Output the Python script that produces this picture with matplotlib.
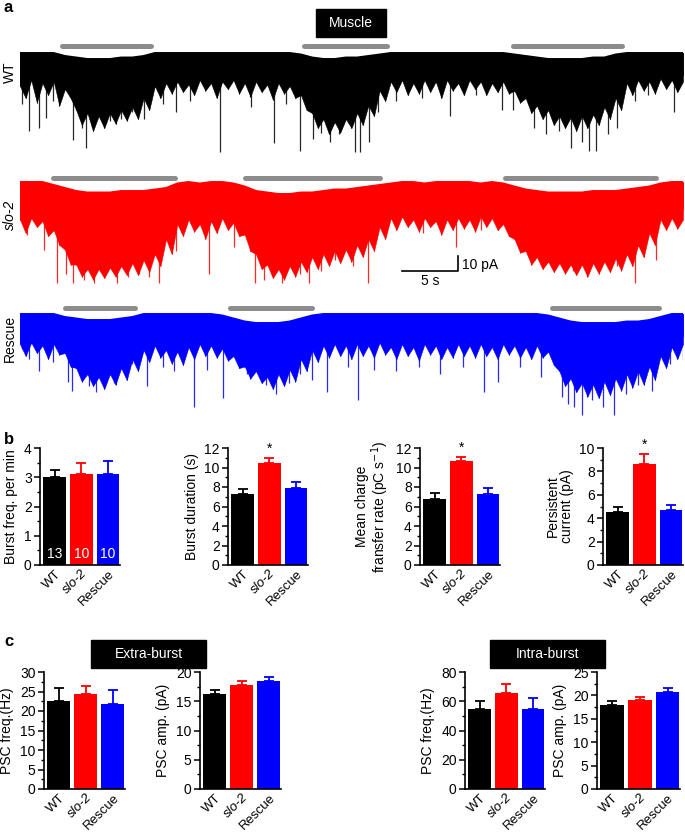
"""Burst recordings (WT / slo-2 / Rescue) with summary bar charts."""
import numpy as np
import matplotlib.pyplot as plt
from matplotlib.patches import Rectangle
from matplotlib.ticker import AutoMinorLocator, MultipleLocator

plt.rcParams["font.family"] = ["Liberation Sans Narrow", "Liberation Sans", "DejaVu Sans"]

W, H = 685, 833

# ---- traces (pA relative to baseline, time in s) ----
t_grid = np.arange(60)          # 1 s grid for top edge / solid core
t_fine = np.arange(119) * 0.5   # 0.5 s grid for the spiky fringe

wt_top = [0, 0, 0, 0, -2, -3, -4, -4, -4, -3,
          -3, -2, 0, 0, 0, 0, 0, 0, 0, 0,
          0, 0, 0, 0, 0, -1, -3, -4, -4, -3,
          -3, -2, -1, 0, 0, 0, 0, 0, 0, 0,
          0, 0, 0, 0, -1, -2, -3, -4, -4, -4,
          -4, -3, -3, -1, 0, 0, 0, 0, 0, 0]
wt_core = [-15, -16, -15, -16, -22, -34, -38, -37, -35, -33,
           -33, -28, -20, -17, -16, -18, -15, -16, -17, -15,
           -16, -17, -16, -18, -17, -22, -32, -40, -40, -38,
           -35, -30, -20, -15, -14, -16, -15, -14, -16, -15,
           -14, -15, -16, -15, -20, -26, -30, -34, -36, -35,
           -36, -35, -30, -24, -15, -14, -15, -13, -14, -15]
wt_fringe = [-22, -30, -18, -33, -20, -28, -19, -35, -24, -30,
             -38, -48, -40, -52, -42, -50, -40, -47, -38, -45,
             -36, -44, -30, -38, -22, -30, -20, -27, -19, -26,
             -21, -28, -18, -25, -20, -30, -19, -24, -18, -27,
             -20, -29, -19, -26, -21, -31, -20, -27, -22, -30,
             -28, -38, -40, -50, -44, -54, -46, -53, -44, -50,
             -40, -48, -35, -42, -25, -32, -19, -26, -18, -28,
             -20, -27, -18, -26, -19, -30, -18, -25, -20, -28,
             -18, -24, -19, -28, -20, -26, -19, -27, -25, -33,
             -30, -40, -35, -44, -38, -48, -42, -50, -43, -52,
             -42, -50, -41, -48, -36, -44, -30, -38, -20, -28,
             -18, -25, -19, -27, -17, -24, -18, -26, -19]
wt_spk_t = [0.2, 0.8, 1.7, 2.3, 2.9, 4.7, 5.5, 5.9, 6.4, 7.2, 8.0, 9.0, 10.0, 11.0,
            11.7, 12.7, 13.9, 15.1, 17.8, 20.6, 22.6, 23.7, 24.9, 26.1, 26.8, 27.6,
            28.4, 29.8, 30.3, 31.1, 31.9, 33.5, 35.8, 38.3, 40.6, 42.9, 43.9, 45.7,
            46.8, 48.0, 49.0, 50.0, 50.6, 51.3, 52.3, 53.1, 54.7, 55.9, 58.2]
wt_spk_a = [-34, -52, -50, -43, -32, -58, -50, -63, -49, -43, -45, -44, -39, -44,
            -32, -34, -39, -32, -66, -36, -60, -34, -65, -57, -53, -59,
            -54, -66, -66, -59, -39, -32, -30, -42, -28, -38, -38, -50,
            -54, -52, -63, -59, -65, -65, -54, -50, -32, -28, -39]
wt_bars = [(3.7, 11.7), (25.3, 32.7), (43.9, 53.6)]

slo_top = [0, 0, 0, -2, -4, -6, -7, -7, -7, -6,
           -6, -6, -5, -4, -1, 0, -1, 0, 0, -1,
           -3, -6, -7, -8, -8, -7, -7, -6, -5, -5,
           -4, -3, -2, -1, 0, 0, -1, 0, 0, 0,
           0, -1, 0, -1, -3, -5, -6, -7, -7, -7,
           -7, -6, -6, -6, -5, -4, -3, -1, 0, 0]
slo_core = [-18, -19, -18, -25, -38, -48, -52, -52, -50, -48,
            -47, -45, -40, -30, -20, -19, -22, -20, -18, -21,
            -27, -40, -48, -52, -50, -47, -42, -40, -38, -38,
            -35, -30, -22, -18, -17, -19, -18, -20, -19, -18,
            -19, -18, -17, -22, -32, -40, -45, -47, -48, -50,
            -50, -48, -47, -45, -40, -35, -27, -18, -17, -18]
slo_fringe = [-25, -34, -24, -30, -26, -36, -32, -42, -45, -55,
              -55, -63, -58, -65, -58, -64, -57, -63, -56, -62,
              -54, -62, -52, -60, -48, -56, -38, -48, -28, -36,
              -25, -33, -28, -38, -26, -34, -24, -32, -27, -36,
              -35, -46, -48, -58, -55, -64, -58, -65, -56, -63,
              -53, -60, -50, -58, -48, -56, -46, -54, -45, -53,
              -42, -50, -38, -46, -30, -38, -24, -32, -23, -30,
              -25, -33, -24, -30, -26, -35, -25, -32, -24, -31,
              -25, -33, -23, -30, -24, -32, -28, -36, -38, -47,
              -46, -55, -50, -58, -53, -60, -54, -61, -55, -62,
              -55, -63, -54, -61, -53, -60, -51, -59, -48, -56,
              -42, -50, -34, -42, -25, -32, -24, -31, -25]
slo_spk_t = [0.6, 2.1, 3.3, 4.1, 4.7, 5.7, 6.6, 7.6, 8.6, 9.6, 10.6, 11.5, 12.4,
             13.9, 16.8, 19.0, 20.9, 21.7, 23.3, 24.9, 25.7, 26.8, 28.0, 29.6,
             31.0, 35.9, 38.8, 41.0, 44.5, 45.7, 46.8, 48.0, 49.2, 50.2, 51.5,
             53.1, 54.7, 56.6, 58.2]
slo_spk_a = [-35, -45, -67, -61, -67, -65, -67, -61, -67, -63, -61, -63, -67,
             -46, -61, -43, -67, -65, -67, -61, -67, -59, -52, -56,
             -67, -34, -43, -32, -39, -48, -54, -52, -59, -56, -59,
             -56, -67, -52, -25]
slo_bars = [(2.9, 13.8), (20.0, 32.0), (43.2, 56.6)]

res_top = [0, 0, 0, 0, -2, -3, -4, -4, -4, -3,
           -2, 0, 0, 0, 0, 0, 0, 0, -1, -3,
           -5, -6, -6, -6, -5, -3, -1, 0, 0, 0,
           0, 0, 0, 0, 0, 0, 0, 0, 0, 0,
           0, 0, 0, 0, 0, 0, 0, -1, -3, -5,
           -6, -6, -6, -6, -5, -5, -4, -2, 0, 0]
res_core = [-14, -15, -14, -15, -20, -30, -35, -37, -35, -30,
            -25, -18, -15, -18, -20, -17, -15, -16, -20, -25,
            -30, -33, -38, -36, -32, -25, -18, -15, -16, -14,
            -16, -15, -14, -16, -15, -17, -14, -15, -16, -14,
            -15, -16, -14, -15, -16, -15, -17, -20, -33, -38,
            -42, -42, -40, -37, -35, -33, -30, -22, -17, -15]
res_fringe = [-20, -28, -19, -26, -21, -30, -20, -27, -26, -35,
              -36, -45, -40, -48, -42, -50, -40, -47, -36, -44,
              -30, -38, -24, -32, -21, -29, -24, -33, -25, -34,
              -22, -30, -20, -28, -21, -29, -23, -31, -28, -36,
              -35, -43, -38, -46, -42, -50, -40, -48, -37, -45,
              -30, -38, -24, -32, -21, -29, -20, -28, -21, -30,
              -20, -28, -21, -29, -19, -27, -22, -30, -20, -28,
              -22, -31, -20, -27, -21, -30, -22, -29, -20, -28,
              -21, -29, -20, -28, -22, -30, -20, -27, -21, -29,
              -22, -30, -21, -29, -25, -34, -38, -48, -43, -52,
              -46, -55, -47, -56, -45, -54, -43, -51, -40, -49,
              -38, -47, -35, -44, -28, -36, -22, -30, -20]
res_spk_t = [0.2, 0.8, 1.7, 2.9, 4.3, 4.6, 5.5, 6.1, 6.8, 7.6, 8.4, 9.4, 10.0,
             11.3, 12.7, 13.7, 15.5, 16.6, 18.1, 20.2, 21.9, 22.8, 23.9, 24.9,
             26.0, 27.3, 29.2, 30.1, 31.5, 33.5, 35.5, 37.4, 39.4, 41.3, 42.5,
             44.5, 46.4, 48.2, 48.8, 49.3, 50.0, 50.9, 51.9, 52.9, 53.9, 55.0,
             56.2, 57.8, 59.0]
res_spk_a = [-23, -30, -38, -32, -45, -51, -43, -48, -52, -42, -46, -35, -33,
             -48, -35, -38, -62, -37, -56, -40, -47, -53, -46, -40,
             -44, -52, -35, -57, -37, -38, -35, -40, -35, -52, -45,
             -35, -42, -55, -60, -62, -67, -57, -62, -67, -53, -47,
             -51, -33, -30]
res_bars = [(4.0, 10.2), (18.7, 26.0), (47.3, 56.9)]

# ---- summary bars ----
groups = ["WT", "slo-2", "Rescue"]
colors = ["#000000", "#ff0000", "#0000ff"]
n_cells = [13, 10, 10]

burst_freq, burst_freq_err = [3.02, 3.10, 3.12], [0.23, 0.40, 0.45]
burst_dur, burst_dur_err = [7.3, 10.45, 7.85], [0.5, 0.5, 0.65]
charge_rate, charge_rate_err = [6.8, 10.7, 7.25], [0.6, 0.4, 0.65]
persist_cur, persist_cur_err = [4.55, 8.65, 4.7], [0.45, 0.8, 0.45]
extra_freq, extra_freq_err = [22.5, 24.3, 21.8], [3.5, 2.2, 3.6]
extra_amp, extra_amp_err = [16.2, 17.7, 18.4], [0.7, 0.8, 0.8]
intra_freq, intra_freq_err = [54.5, 65.5, 55.0], [5.5, 6.5, 7.0]
intra_amp, intra_amp_err = [18.0, 19.0, 20.7], [0.9, 0.6, 0.9]


def px_axes(fig, x0, y0, x1, y1):
    """Axes from pixel box (origin top-left)."""
    return fig.add_axes([x0 / W, 1 - y1 / H, (x1 - x0) / W, (y1 - y0) / H])


def draw_trace(fig, y_base, y0, y1, top, core, fringe, spk_t, spk_a, bars, color, bar_y):
    ax = px_axes(fig, 20, y0, 683, y1)
    # 1.5 px per pA
    ax.set_ylim(-(y1 - y_base) / 1.5, (y_base - y0) / 1.5)
    ax.set_xlim(0, 59)
    ax.fill_between(t_grid, top, core, color=color, lw=0.5, edgecolor=color)
    top_fine = np.interp(t_fine, t_grid, top)
    ax.fill_between(t_fine, top_fine, fringe, color=color, lw=0.4, edgecolor=color)
    ax.vlines(t_fine, top_fine, fringe, color=color, lw=0.8)
    ax.plot(t_grid, top, color=color, lw=1.4)
    start = np.interp(spk_t, t_grid, top)
    ax.vlines(spk_t, start, spk_a, color=color, lw=0.9, alpha=0.85)
    for b0, b1 in bars:
        ax.plot([b0, b1], [bar_y, bar_y], color="#8c8c8c", lw=3.6, solid_capstyle="round")
    ax.axis("off")
    return ax


def bar_panel(fig, box, vals, errs, ymax, step, ylabel, star=False, ns=None):
    ax = px_axes(fig, *box)
    x = np.arange(3)
    for i in range(3):
        ax.bar(x[i], vals[i], width=0.86, color=colors[i])
        ax.errorbar(x[i], vals[i], yerr=[[0], [errs[i]]], fmt="none",
                    ecolor=colors[i], elinewidth=1.3, capsize=3.8, capthick=1.3)
    ax.set_xlim(-0.55, 2.45)
    ax.set_ylim(0, ymax)
    ax.yaxis.set_major_locator(MultipleLocator(step))
    ax.yaxis.set_minor_locator(AutoMinorLocator(2))
    for s in ["top", "right"]:
        ax.spines[s].set_visible(False)
    for s in ["left", "bottom"]:
        ax.spines[s].set_linewidth(1.2)
    ax.tick_params(axis="y", which="major", length=4, width=1.1, labelsize=10, pad=2)
    ax.tick_params(axis="y", which="minor", length=2.5, width=1.0)
    ax.tick_params(axis="x", length=0, labelsize=9.5, pad=2)
    ax.set_xticks(x)
    ax.set_xticklabels(groups, rotation=45, ha="right", rotation_mode="anchor")
    ax.get_xticklabels()[1].set_style("italic")
    ax.set_ylabel(ylabel, fontsize=10, labelpad=4, linespacing=1.0)
    if star:
        ax.text(1, vals[1] + errs[1] + ymax * 0.02, "*", ha="center", va="bottom", fontsize=10)
    if ns:
        for i, n in enumerate(ns):
            ax.text(i, ymax * 0.03, str(n), color="white", ha="center", va="bottom", fontsize=10)
    return ax


def label_box(fig, x0, y0, x1, y1, text):
    fig.patches.append(Rectangle((x0 / W, 1 - y1 / H), (x1 - x0) / W, (y1 - y0) / H,
                                 transform=fig.transFigure, color="black", zorder=5))
    fig.text((x0 + x1) / 2 / W, 1 - (y0 + y1) / 2 / H, text, color="white",
             ha="center", va="center", fontsize=10, zorder=6)


fig = plt.figure(figsize=(W / 100, H / 100), dpi=100)

# panel a
fig.text(4 / W, 1 - 8 / H, "a", fontsize=12, fontweight="bold", va="center")
label_box(fig, 316, 9, 386, 37, "Muscle")
draw_trace(fig, 53, 40, 156, wt_top, wt_core, wt_fringe, wt_spk_t, wt_spk_a, wt_bars, "black", 4.5)
ax_slo = draw_trace(fig, 182, 170, 290, slo_top, slo_core, slo_fringe, slo_spk_t, slo_spk_a,
                    slo_bars, "#ff0000", 2.8)
draw_trace(fig, 314, 300, 420, res_top, res_core, res_fringe, res_spk_t, res_spk_a, res_bars,
           "#0000ff", 4.2)
fig.text(10 / W, 1 - 72 / H, "WT", rotation=90, ha="center", va="center", fontsize=10)
fig.text(10 / W, 1 - 215 / H, "slo-2", rotation=90, ha="center", va="center", fontsize=10, style="italic")
fig.text(10 / W, 1 - 338 / H, "Rescue", rotation=90, ha="center", va="center", fontsize=10)

# scale bar (5 s, 10 pA) in the slo-2 trace axes
sb_t0, sb_y = 34.0, -59.3
ax_slo.plot([sb_t0, sb_t0 + 5, sb_t0 + 5], [sb_y, sb_y, sb_y + 10], color="black", lw=1.2)
ax_slo.text(sb_t0 + 2.5, sb_y - 2, "5 s", ha="center", va="top", fontsize=10)
ax_slo.text(sb_t0 + 5.3, sb_y + 4, "10 pA", ha="left", va="center", fontsize=10)

# panel b
fig.text(4 / W, 1 - 440 / H, "b", fontsize=12, fontweight="bold", va="center")
bar_panel(fig, (40, 448, 120, 565), burst_freq, burst_freq_err, 4, 1, "Burst freq. per min", ns=n_cells)
bar_panel(fig, (228, 448, 308, 565), burst_dur, burst_dur_err, 12, 2, "Burst duration (s)", star=True)
bar_panel(fig, (420, 448, 500, 565), charge_rate, charge_rate_err, 12, 2,
          "Mean charge\nfransfer rate (pC s$^{-1}$)", star=True)
bar_panel(fig, (603, 448, 683, 565), persist_cur, persist_cur_err, 10, 2,
          "Persistent\ncurrent (pA)", star=True)

# panel c
fig.text(4 / W, 1 - 641 / H, "c", fontsize=12, fontweight="bold", va="center")
label_box(fig, 91, 640, 206, 668, "Extra-burst")
label_box(fig, 490, 640, 605, 668, "Intra-burst")
bar_panel(fig, (44, 672, 125, 789), extra_freq, extra_freq_err, 30, 5, "PSC freq.(Hz)")
bar_panel(fig, (200, 672, 281, 789), extra_amp, extra_amp_err, 20, 5, "PSC amp. (pA)")
bar_panel(fig, (465, 672, 545, 789), intra_freq, intra_freq_err, 80, 20, "PSC freq.(Hz)")
bar_panel(fig, (597, 672, 680, 789), intra_amp, intra_amp_err, 25, 5, "PSC amp. (pA)")

fig.savefig("out.png", dpi=100)
